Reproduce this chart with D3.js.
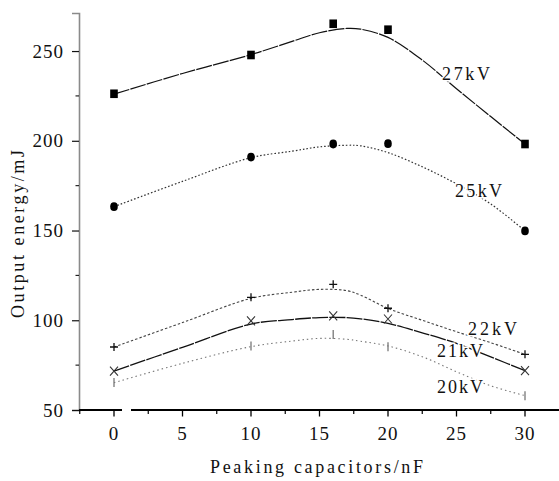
<!DOCTYPE html>
<html><head><meta charset="utf-8">
<script src="https://cdn.jsdelivr.net/npm/d3@7"></script>
<style>
html,body{margin:0;padding:0;background:#fff;}
svg{display:block;}
text{font-family:"Liberation Serif","Times New Roman",serif;fill:#111;}
</style></head>
<body>
<svg id="c" width="559" height="481"></svg>
<script>
// ---- data ----
const capacitors = [0, 10, 16, 20, 30];               // nF
const seriesNames = ["27kV", "25kV", "22kV", "21kV", "20kV"];
const energy27 = [226.2, 247.8, 265.2, 261.9, 198.2];
const energy25 = [163.3, 190.9, 198.2, 198.4, 149.8];
const energy22 = [85.1, 112.8, 120.0, 106.7, 81.0];
const energy21 = [71.7, 99.6, 102.4, 100.7, 71.9];
const energy20 = [65.3, 85.7, 92.0, 85.3, 58.0];
// fitted curves
const fitX = [0, 5, 10, 13, 15, 17, 18, 20, 22.5, 25, 27.5, 30];
const fit27 = [226, 237.5, 248, 255.4, 260.2, 262.6, 262.2, 257.6, 245, 229, 213.5, 198.2];
const fit25 = [163.3, 177.4, 190.6, 194.2, 196.6, 197.5, 197.2, 193.4, 185.5, 176, 164.8, 149.8];
const fit22 = [85.1, 98.7, 112.2, 115.6, 117.2, 116.5, 114, 106.6, 100, 93.6, 87.5, 81];
const fit21 = [71.7, 84.9, 97.9, 100.4, 101.5, 101.5, 100.8, 98.3, 93, 87.1, 79.6, 71.9];
const fit20 = [65.2, 76, 85.3, 88.4, 89.9, 89.4, 88.3, 85.7, 79.7, 71.3, 63.5, 58];
const yTicks = [50, 100, 150, 200, 250];
const yMinor = [75, 125, 175, 225];
const xTicks = [0, 5, 10, 15, 20, 25, 30];
const xMinor = [-2.5, 2.5, 7.5, 12.5, 17.5, 22.5, 27.5];
const xTitle = "Peaking capacitors/nF";
const yTitle = "Output energy/mJ";

const values = [energy27, energy25, energy22, energy21, energy20];
const fits = [fit27, fit25, fit22, fit21, fit20];

// ---- layout / style ----
const svg = d3.select("#c");
const x = d3.scaleLinear().domain([0, 30]).range([114, 525]);
const y = d3.scaleLinear().domain([50, 271.2]).range([410, 13]);

const styles = [
  {marker: "square", stroke: "#111", dash: "16,1.2", width: 1.2, mcol: "#000"},
  {marker: "circle", stroke: "#333", dash: "1.6,2", width: 1.2, mcol: "#000"},
  {marker: "plus",   stroke: "#444", dash: "2.5,2", width: 1.1, mcol: "#111"},
  {marker: "cross",  stroke: "#111", dash: "16,1.2", width: 1.3, mcol: "#333"},
  {marker: "bar",    stroke: "#777", dash: "1.5,3", width: 1.1, mcol: "#777"}
];
// label anchors: [left x in px, baseline y in px, width]
const labelPos = [[442, 80, 48], [455, 197, 47], [468, 335, 49], [437, 357, 46], [437, 393, 46]];

// ---- Y axis ----
const gy = svg.append("g").attr("transform", "translate(79,0)");
gy.call(d3.axisLeft(y).tickValues(yTicks).tickSize(7).tickPadding(0).tickFormat(""));
gy.select(".domain").attr("stroke", "#8a8a8a").attr("stroke-width", 1.6);
gy.selectAll(".tick line").attr("stroke", "#111").attr("stroke-width", 1.2);
gy.selectAll(".ymin").data(yMinor).enter().append("line")
  .attr("x1", -3.5).attr("x2", 0).attr("y1", d => y(d)).attr("y2", d => y(d))
  .attr("stroke", "#111").attr("stroke-width", 1.1);
svg.selectAll(".ylab").data(yTicks).enter().append("text")
  .attr("x", 64).attr("y", d => y(d) + 6.5)
  .attr("text-anchor", "end").attr("font-size", 19).attr("letter-spacing", 1)
  .text(d => d);

// ---- X axis (with break) ----
const gx = svg.append("g");
const xl = x(-2.55), xr = 559, b1 = 122, b2 = 131;
gx.append("line").attr("x1", xl).attr("x2", b1).attr("y1", 410).attr("y2", 410)
  .attr("stroke", "#000").attr("stroke-width", 1.8);
gx.append("line").attr("x1", b2).attr("x2", xr).attr("y1", 410).attr("y2", 410)
  .attr("stroke", "#000").attr("stroke-width", 1.8);
gx.selectAll(".xt").data(xTicks).enter().append("line")
  .attr("x1", d => x(d)).attr("x2", d => x(d)).attr("y1", 410).attr("y2", 416.5)
  .attr("stroke", "#000").attr("stroke-width", 1.3);
gx.selectAll(".xm").data(xMinor).enter().append("line")
  .attr("x1", d => x(d)).attr("x2", d => x(d)).attr("y1", 410).attr("y2", 414)
  .attr("stroke", "#000").attr("stroke-width", 1.2);
svg.selectAll(".xlab").data(xTicks).enter().append("text")
  .attr("x", d => x(d)).attr("y", 440)
  .attr("text-anchor", "middle").attr("font-size", 19).attr("letter-spacing", 1)
  .text(d => d);

// ---- titles ----
svg.append("text").attr("x", 210).attr("y", 473).attr("font-size", 18)
  .attr("textLength", 213).attr("lengthAdjust", "spacing").text(xTitle);
svg.append("text").attr("transform", "translate(24,318) rotate(-90)")
  .attr("font-size", 18).attr("textLength", 168).attr("lengthAdjust", "spacing").text(yTitle);

// ---- curves ----
const line = d3.line().x(d => x(d[0])).y(d => y(d[1])).curve(d3.curveCatmullRom.alpha(0.5));
fits.forEach((f, i) => {
  svg.append("path").datum(fitX.map((v, j) => [v, f[j]]))
    .attr("d", line).attr("fill", "none")
    .attr("stroke", styles[i].stroke).attr("stroke-width", styles[i].width)
    .attr("stroke-dasharray", styles[i].dash);
});

// ---- series labels (white background to hide the curve behind) ----
seriesNames.forEach((n, i) => {
  const [lx, ly, lw] = labelPos[i];
  svg.append("text").attr("x", lx).attr("y", ly).attr("font-size", 18)
    .attr("textLength", lw).attr("lengthAdjust", "spacing")
    .attr("stroke", "#fff").attr("stroke-width", 3).attr("paint-order", "stroke")
    .text(n);
});

// ---- markers ----
values.forEach((vals, i) => {
  const st = styles[i];
  const g = svg.append("g");
  vals.forEach((v, j) => {
    const cx = x(capacitors[j]), cy = y(v);
    if (st.marker === "square") {
      g.append("rect").attr("x", cx - 3.8).attr("y", cy - 4.3).attr("width", 7.6).attr("height", 8.6).attr("fill", st.mcol);
    } else if (st.marker === "circle") {
      g.append("ellipse").attr("cx", cx).attr("cy", cy).attr("rx", 3.8).attr("ry", 4.4).attr("fill", st.mcol);
    } else if (st.marker === "plus") {
      g.append("path").attr("d", `M${cx - 4},${cy}H${cx + 4}M${cx},${cy - 4}V${cy + 4}`)
        .attr("stroke", st.mcol).attr("stroke-width", 1.3);
    } else if (st.marker === "cross") {
      g.append("path").attr("d", `M${cx - 4},${cy - 4.5}L${cx + 4},${cy + 4.5}M${cx + 4},${cy - 4.5}L${cx - 4},${cy + 4.5}`)
        .attr("stroke", st.mcol).attr("stroke-width", 1.1);
    } else {
      g.append("path").attr("d", `M${cx},${cy - 4.5}V${cy + 4.5}`)
        .attr("stroke", st.mcol).attr("stroke-width", 1.3);
    }
  });
});
</script>
</body></html>
